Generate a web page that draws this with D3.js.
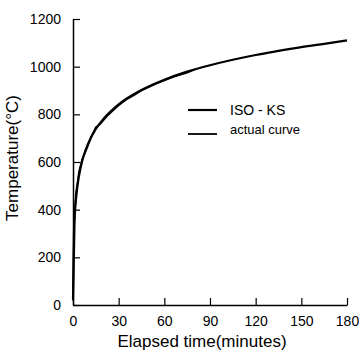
<!DOCTYPE html>
<html><head><meta charset="utf-8">
<script src="https://cdn.jsdelivr.net/npm/d3@7/dist/d3.min.js"></script>
<style>
html,body{margin:0;padding:0;background:#fff;}
text{font-family:"Liberation Sans",Arial,sans-serif;fill:#000;}
</style></head>
<body>
<svg id="c" width="359" height="353"></svg>
<script>
const isoTime = [0,1,2,3,5,7,10,15,20,30,45,60,75,90,105,120,135,150,165,180];
const isoTemp = [20,349,445,502,576,626,678,739,781,842,902,945,979,1006,1029,1049,1066,1082,1096,1110];
const actTime = [0,0.5,1,2,4,6,8,10,12,15,18,22,26,30,35,40,45,50,55,60,65,70,75,80];
const actTemp = [20,300,380,470,560,610,640,672,705,745,760,790,815,838,862,880,900,915,930,942,955,965,975,988];
const xTicks = [0,30,60,90,120,150,180];
const yTicks = [0,200,400,600,800,1000,1200];
const legendLabels = ["ISO - KS","actual curve"];

const svg = d3.select("#c");
const x = d3.scaleLinear().domain([0,180]).range([73,347]);
const y = d3.scaleLinear().domain([0,1200]).range([305,19]);

const xa = svg.append("g").attr("transform","translate(0,305)")
  .call(d3.axisBottom(x).tickValues(xTicks).tickFormat(d3.format("d")).tickSize(-7).tickPadding(11).tickSizeOuter(0));
const ya = svg.append("g").attr("transform","translate(73,0)")
  .call(d3.axisLeft(y).tickValues(yTicks).tickFormat(d3.format("d")).tickSize(-7).tickPadding(12).tickSizeOuter(0));
[xa,ya].forEach(a=>{
  a.selectAll("path").attr("stroke","#000").attr("stroke-width",1.5);
  a.selectAll("line").attr("stroke","#000").attr("stroke-width",1.2);
  a.selectAll("text").attr("font-size",14).attr("font-family","Liberation Sans, Arial, sans-serif");
});

const line = d3.line().x(d=>x(d[0])).y(d=>y(d[1]));
svg.append("path").datum(isoTime.map((t,i)=>[t,isoTemp[i]]))
  .attr("d",d3.line().curve(d3.curveMonotoneX).x(d=>x(d[0])).y(d=>y(d[1])))
  .attr("fill","none").attr("stroke","#000").attr("stroke-width",2.2);
svg.append("path").datum(actTime.map((t,i)=>[t,actTemp[i]]))
  .attr("d",line).attr("fill","none").attr("stroke","#000").attr("stroke-width",1.8);

// legend
const lg = svg.append("g");
legendLabels.forEach((l,i)=>{
  const yy = 110 + i*24;
  lg.append("line").attr("x1",188).attr("x2",217).attr("y1",yy).attr("y2",yy)
    .attr("stroke","#000").attr("stroke-width",i===0?2.2:1.8);
  lg.append("text").attr("x",230).attr("y",yy - (i===0?0:5)).attr("dy","0.35em")
    .attr("font-size",i===0?14:13).text(l);
});

svg.append("text").attr("x",(73+347)/2 - 8).attr("y",347).attr("text-anchor","middle")
  .attr("font-size",17).text("Elapsed time(minutes)");
svg.append("text").attr("transform","translate(18,158) rotate(-90)").attr("text-anchor","middle")
  .attr("font-size",17).text("Temperature(°C)");
</script>
</body></html>
